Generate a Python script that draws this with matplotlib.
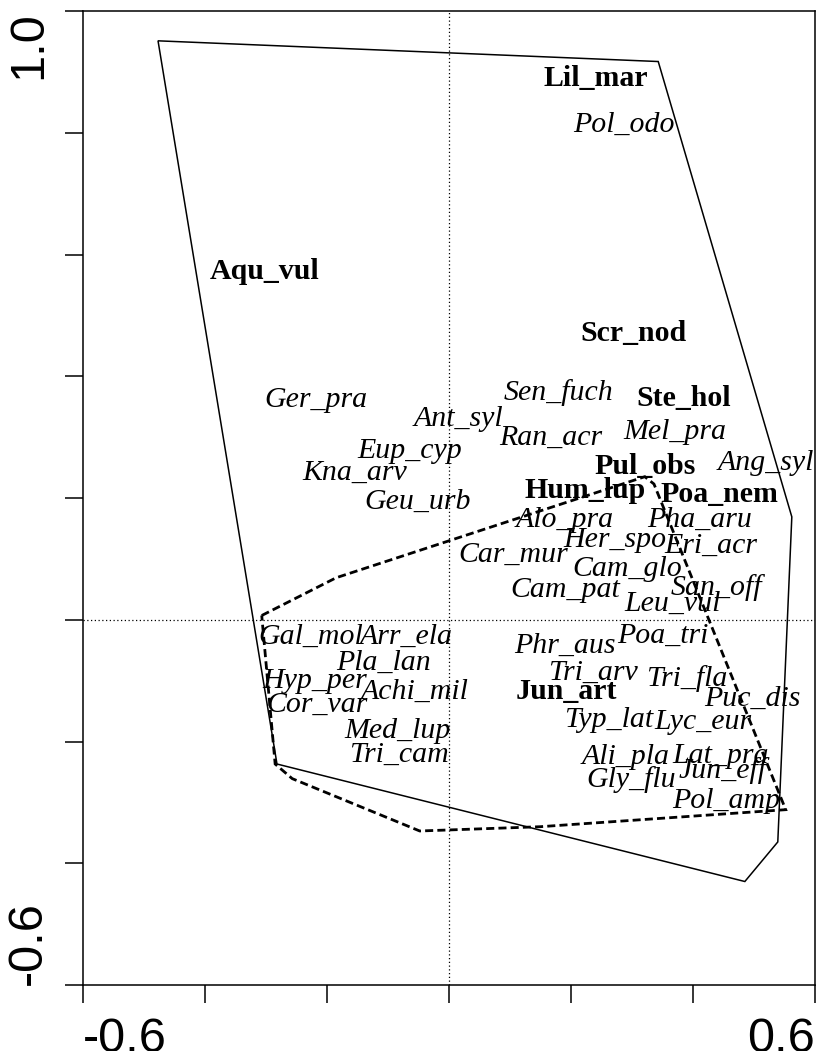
import matplotlib.pyplot as plt

# species scores shown in bold
bold_names = ["Lil_mar", "Aqu_vul", "Scr_nod", "Ste_hol", "Pul_obs",
              "Hum_lup", "Poa_nem", "Jun_art"]
bold_x = [0.241, -0.302, 0.303, 0.384, 0.321, 0.223, 0.444, 0.192]
bold_y = [0.889, 0.572, 0.470, 0.363, 0.251, 0.212, 0.205, -0.118]

# species scores shown in italics
ital_names = ["Pol_odo", "Ger_pra", "Sen_fuch", "Ant_syl", "Mel_pra", "Ran_acr",
              "Eup_cyp", "Ang_syl", "Kna_arv", "Geu_urb", "Alo_pra", "Pha_aru",
              "Her_spo", "Eri_acr", "Car_mur", "Cam_glo", "Cam_pat", "San_off",
              "Leu_vul", "Poa_tri", "Gal_mol", "Arr_ela", "Phr_aus", "Pla_lan",
              "Tri_arv", "Tri_fla", "Hyp_per", "Achi_mil", "Puc_dis", "Cor_var",
              "Typ_lat", "Lyc_eur", "Med_lup", "Tri_cam", "Ali_pla", "Lat_pra",
              "Gly_flu", "Jun_eff", "Pol_amp"]
ital_x = [0.287, -0.218, 0.179, 0.015, 0.370, 0.167,
          -0.064, 0.520, -0.154, -0.052, 0.190, 0.411,
          0.272, 0.430, 0.105, 0.292, 0.190, 0.439,
          0.366, 0.351, -0.226, -0.070, 0.190, -0.107,
          0.236, 0.389, -0.220, -0.057, 0.497, -0.216,
          0.262, 0.416, -0.084, -0.082, 0.289, 0.446,
          0.298, 0.448, 0.454]
ital_y = [0.813, 0.361, 0.373, 0.329, 0.309, 0.299,
          0.278, 0.258, 0.241, 0.194, 0.164, 0.164,
          0.131, 0.122, 0.107, 0.084, 0.049, 0.053,
          0.026, -0.026, -0.028, -0.028, -0.043, -0.071,
          -0.087, -0.097, -0.100, -0.118, -0.130, -0.140,
          -0.164, -0.168, -0.182, -0.222, -0.225, -0.223,
          -0.263, -0.248, -0.297]

# convex hulls of the two groups
hull_solid_x = [-0.477, 0.343, 0.562, 0.539, 0.485, -0.282]
hull_solid_y = [0.951, 0.917, 0.169, -0.365, -0.430, -0.237]
hull_dash_x = [-0.307, -0.185, 0.321, 0.336, 0.552, 0.149, -0.048, -0.257, -0.285]
hull_dash_y = [0.007, 0.069, 0.235, 0.223, -0.312, -0.340, -0.347, -0.261, -0.237]

fig = plt.figure(figsize=(8.17, 10.51), dpi=100)
ax = fig.add_axes([83 / 817, 66 / 1051, 732 / 817, 974 / 1051])
ax.set_xlim(-0.6, 0.6)
ax.set_ylim(-0.6, 1.0)

ax.axvline(0, color="black", lw=0.9, ls=(0, (1, 2)))
ax.axhline(0, color="black", lw=0.9, ls=(0, (1, 2)))

ax.fill(hull_solid_x, hull_solid_y, fill=False, edgecolor="black", lw=1.1)
ax.fill(hull_dash_x, hull_dash_y, fill=False, edgecolor="black", lw=2.0,
        ls=(0, (2.9, 1.5)))

serif = ["Liberation Serif", "DejaVu Serif"]
for name, x, y in zip(ital_names, ital_x, ital_y):
    ax.text(x, y, name, ha="center", va="center", fontsize=21.5,
            style="italic", family=serif, clip_on=True)
for name, x, y in zip(bold_names, bold_x, bold_y):
    ax.text(x, y, name, ha="center", va="center", fontsize=21.5,
            weight="bold", family=serif, clip_on=True)

for s in ax.spines.values():
    s.set_linewidth(1.1)

xt = [-0.6, -0.4, -0.2, 0.0, 0.2, 0.4, 0.6]
yt = [-0.6, -0.4, -0.2, 0.0, 0.2, 0.4, 0.6, 0.8, 1.0]
ax.set_xticks(xt, ["-0.6", "", "", "", "", "", "0.6"])
ax.set_yticks(yt, ["-0.6", "", "", "", "", "", "", "", "1.0"])
ax.tick_params(direction="out", length=13, width=1.1, pad=10,
               labelsize=35)
for lab in ax.get_xticklabels() + ax.get_yticklabels():
    lab.set_family(["Liberation Sans", "DejaVu Sans"])
xl = ax.get_xticklabels()
xl[0].set_ha("left")
xl[-1].set_ha("right")
yl = ax.get_yticklabels()
for lab in yl:
    lab.set_rotation(90)
    lab.set_ha("right")
yl[0].set_va("bottom")
yl[-1].set_va("top")

fig.savefig("out.png", dpi=100)
